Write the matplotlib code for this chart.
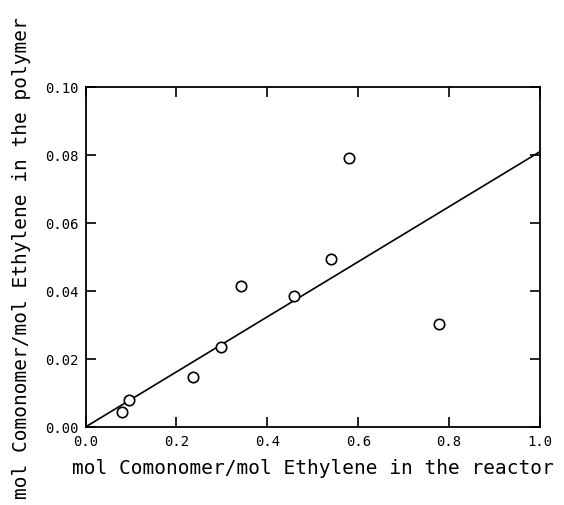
import numpy as np
import matplotlib.pyplot as plt

# measured points: mol comonomer / mol ethylene, reactor vs polymer
reactor = [0.080, 0.096, 0.237, 0.299, 0.342, 0.458, 0.540, 0.580, 0.778]
polymer = [0.0045, 0.0078, 0.0148, 0.0234, 0.0416, 0.0384, 0.0493, 0.0792, 0.0302]

# fitted straight line through the origin
fit_x = [0.0, 1.0]
fit_slope = 0.081

xticks = [0.0, 0.2, 0.4, 0.6, 0.8, 1.0]
yticks = [0.00, 0.02, 0.04, 0.06, 0.08, 0.10]

plt.rcParams['font.family'] = ['DejaVu Sans Mono']

fig = plt.figure(figsize=(5.64, 5.06), dpi=100)
ax = fig.add_axes([0.1516, 0.1542, 0.8059, 0.6719])

ax.plot(fit_x, [fit_slope * x for x in fit_x], color='black', linewidth=1.2)
ax.plot(reactor, polymer, linestyle='none', marker='o', markersize=7.5,
        markerfacecolor='white', markeredgecolor='black', markeredgewidth=1.2)

ax.set_xlim(0, 1.0)
ax.set_ylim(0, 0.10)
ax.set_xticks(xticks)
ax.set_yticks(yticks)
ax.set_xticklabels([f'{v:.1f}' for v in xticks])
ax.set_yticklabels([f'{v:.2f}' for v in yticks])

ax.tick_params(direction='in', length=7, width=1.2, top=True, right=True,
               labelsize=10, pad=5)
for s in ax.spines.values():
    s.set_linewidth(1.3)

ax.set_xlabel('mol Comonomer/mol Ethylene in the reactor', fontsize=14, labelpad=7)
ax.set_ylabel('mol Comonomer/mol Ethylene in the polymer', fontsize=14, labelpad=10)

plt.savefig('out.png', dpi=100)
